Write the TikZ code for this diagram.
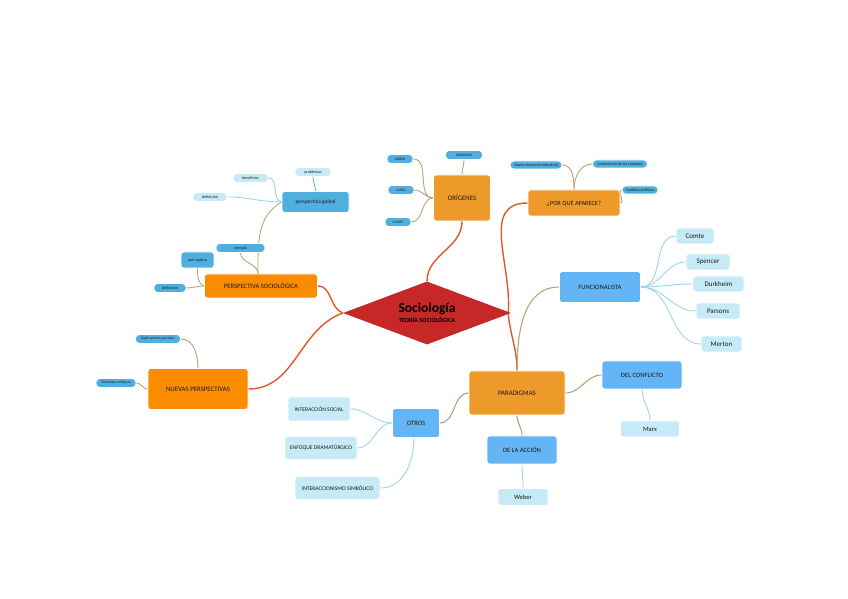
\documentclass[tikz,border=0pt]{standalone}
\usepackage{fontspec}
\setmainfont{Carlito}
\usetikzlibrary{shapes.geometric,backgrounds}
\definecolor{dred}{HTML}{C62828}
\definecolor{orA}{HTML}{EE9A2B}
\definecolor{orB}{HTML}{FB8C00}
\definecolor{blP}{HTML}{4FB0E0}
\definecolor{blM}{HTML}{64B5F6}
\definecolor{blL}{HTML}{C6EBF7}
\definecolor{txt}{HTML}{1A1A1A}
\definecolor{lnR}{HTML}{E0582A}
\definecolor{lnOB}{HTML}{C0A070}
\definecolor{lnL}{HTML}{9BD3F3}
\tikzset{
  box/.style={rectangle, rounded corners=3pt, inner sep=0pt, align=center, text=txt, draw=white, line width=0.6pt},
  obox/.style={box, fill=orA, font=\fontsize{6.8}{7}\selectfont},
  obbox/.style={box, fill=orB, font=\fontsize{6.8}{7}\selectfont},
  mbox/.style={box, fill=blM, font=\fontsize{6.6}{7}\selectfont},
  lbox/.style={box, fill=blL, font=\fontsize{5.6}{6}\selectfont},
  nbox/.style={box, fill=blL, font=\fontsize{7}{8}\selectfont},
  pill/.style={box, fill=blP, rounded corners=4pt, minimum height=9pt, font=\fontsize{4}{4.5}\selectfont},
  cpill/.style={pill, font=\fontsize{3.5}{4}\selectfont},
  lR/.style={draw=lnR, line width=1.4pt},
  lOB/.style={draw=lnOB, line width=0.9pt},
  lL/.style={draw=lnL, line width=0.9pt},
  lP/.style={draw=blP, line width=0.8pt},
}
\begin{document}
\begin{tikzpicture}[x=1pt,y=1pt]
\useasboundingbox (0,0) rectangle (848,599);
% central
\node[diamond, aspect=2.67, fill=dred, minimum width=168pt, minimum height=63pt, inner sep=0pt, align=center, text=black] (d) at (427,286)
  {{\fontsize{13.5}{14}\selectfont\bfseries Sociología}\\[-2pt]{\fontsize{6.2}{6.5}\selectfont\bfseries TEORÍA SOCIOLÓGICA}};
% first level
\node[obox, minimum width=57pt, minimum height=46pt] (orig) at (462,401) {ORÍGENES};
\node[obox, minimum width=92pt, minimum height=26pt, font=\fontsize{6.3}{7}\selectfont] (porque) at (574,396) {¿POR QUÉ APARECE?};
\node[obox, minimum width=96pt, minimum height=44pt] (parad) at (517,206) {PARADIGMAS};
\node[obbox, minimum width=100pt, minimum height=41pt] (nuevas) at (198,210) {NUEVAS PERSPECTIVAS};
\node[obbox, minimum width=113pt, minimum height=24pt, font=\fontsize{6.6}{7}\selectfont] (persp) at (261,313) {PERSPECTIVA SOCIOLÓGICA};
% origenes children
\node[cpill, minimum width=37pt] (durk) at (464,444) {DURKHEIM};
\node[cpill, minimum width=26pt] (weberU) at (400,440) {WEBER};
\node[cpill, minimum width=26pt] (marxU) at (401,409) {MARX};
\node[cpill, minimum width=26pt] (comteU) at (398,377) {COMTE};
% porque children
\node[pill, minimum width=52pt, minimum height=8pt] (nueva) at (536,434) {Nueva economía industrial};
\node[pill, minimum width=55pt, minimum height=8pt] (crec) at (620,435) {Crecimiento de las ciudades};
\node[pill, minimum width=36pt, minimum height=8pt] (camb) at (640,409) {Cambios políticos};
% paradigmas children
\node[mbox, minimum width=81pt, minimum height=31pt] (func) at (600,312) {FUNCIONALISTA};
\node[mbox, minimum width=80pt, minimum height=28pt] (confl) at (642,224) {DEL CONFLICTO};
\node[mbox, minimum width=70pt, minimum height=28pt] (accion) at (522,149) {DE LA ACCIÓN};
\node[mbox, minimum width=47pt, minimum height=29pt] (otros) at (416,176) {OTROS};
% funcionalista children
\node[nbox, minimum width=38pt, minimum height=16pt] (comte) at (695,363) {Comte};
\node[nbox, minimum width=44pt, minimum height=16pt] (spencer) at (708,337) {Spencer};
\node[nbox, minimum width=51pt, minimum height=16pt] (durkheim) at (718.5,315) {Durkheim};
\node[nbox, minimum width=44pt, minimum height=16pt] (parsons) at (718,288) {Parsons};
\node[nbox, minimum width=41pt, minimum height=16pt] (merton) at (721.5,255) {Merton};
\node[nbox, minimum width=59pt, minimum height=16pt, font=\fontsize{6.6}{7}\selectfont] (marx) at (650,170) {Marx};
\node[nbox, minimum width=50pt, minimum height=17pt, font=\fontsize{6.6}{7}\selectfont] (weber) at (523,102) {Weber};
% otros children
\node[lbox, minimum width=62pt, minimum height=24pt] (intsoc) at (319,190) {INTERACCIÓN SOCIAL};
\node[lbox, minimum width=72pt, minimum height=23pt] (enfoque) at (321,151) {ENFOQUE DRAMATÚRGICO};
\node[lbox, minimum width=85pt, minimum height=23pt] (intsim) at (337.5,111) {INTERACCIONISMO SIMBÓLICO};
% nuevas children
\node[pill, minimum width=45pt, font=\fontsize{3.6}{4}\selectfont] (explic) at (158,260) {Explicaciones parciales};
\node[pill, minimum width=40pt, font=\fontsize{3.6}{4}\selectfont] (difer) at (116,216) {Diferentes enfoques};
% perspectiva children
\node[pill, minimum width=32pt] (def2) at (170,311) {definición};
\node[pill, minimum width=33pt, minimum height=16pt, rounded corners=3pt] (implica) at (197.5,339) {qué implica};
\node[pill, minimum width=49pt] (ejemplo) at (240.5,351) {ejemplo};
\node[pill, minimum width=67pt, minimum height=21pt, rounded corners=3pt, font=\fontsize{5.4}{6}\selectfont] (pglobal) at (315.5,397) {perspectiva global};
\node[pill, minimum width=35pt, fill=blL] (benef) at (250.5,421) {beneficios};
\node[pill, minimum width=36pt, fill=blL] (probl) at (313,427) {problemas};
\node[pill, minimum width=34pt, fill=blL] (def1) at (210,402) {definición};
% connectors (behind the nodes)
\begin{pgfonlayer}{background}
\path[lR] (d.north) to[out=90,in=-90] (orig.south);
\path[lR] ([xshift=-3pt]d.east) to[out=85,in=180,looseness=1.1] (porque.west);
\path[lR] ([xshift=-3pt]d.east) to[out=-85,in=90] (parad.north);
\path[lR] (persp.east) to[out=0,in=160] (d.west);
\path[lR] (nuevas.east) to[out=0,in=200] (d.west);
\path[lOB, line width=1.1pt] (parad.north) to[out=90,in=180] (func.west);
\path[lOB, line width=1.1pt] (parad.east) to[out=0,in=180] (confl.west);
\path[lOB, line width=1.1pt] (parad.south) to[out=-90,in=90] (accion.north);
\path[lOB, line width=1.1pt] (parad.west) to[out=180,in=0] (otros.east);
\foreach \c in {comte,spencer,durkheim,parsons,merton}
  \path[lL] (func.east) to[out=0,in=180] (\c.west);
\path[lL] (confl.south) to[out=-90,in=90] (marx.north);
\path[lL] (accion.south) to[out=-90,in=90] (weber.north);
\path[lL] (otros.west) to[out=180,in=0] (intsoc.east);
\path[lL] (otros.west) to[out=180,in=0] (enfoque.east);
\path[lL] ([xshift=-2pt]otros.south) to[out=-90,in=0] (intsim.east);
\foreach \c in {weberU,marxU,comteU}
  \path[lOB] (orig.west) to[out=180,in=0] (\c.east);
\path[lOB] (orig.north) to[out=90,in=-90] (durk.south);
\path[lOB] (porque.north) to[out=90,in=0] (nueva.east);
\path[lOB] (porque.north) to[out=90,in=180] (crec.west);
\path[lOB] (porque.east) to[out=0,in=180] (camb.west);
\path[lOB] (persp.west) to[out=180,in=0] (def2.east);
\path[lOB] (persp.west) to[out=160,in=-90] (implica.south);
\path[lOB] ([xshift=-3pt]persp.north) to[out=90,in=-90] (ejemplo.south);
\path[lOB] ([xshift=-3pt]persp.north) to[out=90,in=210] (pglobal.west);
\path[lL] (pglobal.west) to[out=170,in=0] (benef.east);
\path[lL] (pglobal.west) to[out=180,in=0] (def1.east);
\path[lP] (pglobal.north) to[out=90,in=-90] (probl.south);
\path[lOB] (nuevas.north) to[out=90,in=0] (explic.east);
\path[lOB] (nuevas.west) to[out=180,in=0] (difer.east);
\end{pgfonlayer}
\end{tikzpicture}
\end{document}
